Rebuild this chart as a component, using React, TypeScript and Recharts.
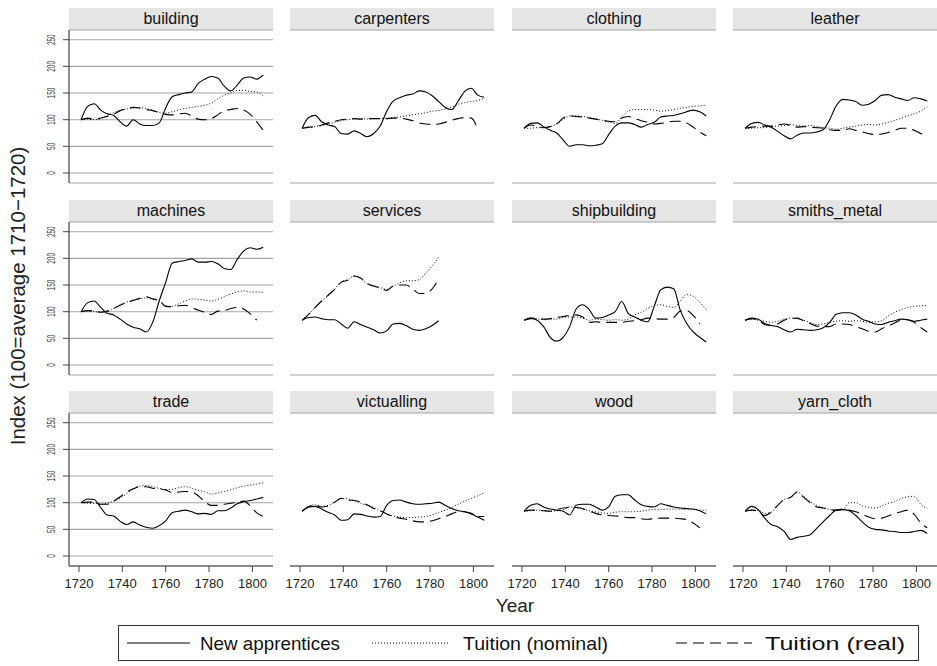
import React from 'react';
import { LineChart, Line, XAxis, YAxis, CartesianGrid } from 'recharts';

// Three-year sample points, 1721-1805
const years = [1721, 1724, 1727, 1730, 1733, 1736, 1739, 1742, 1745, 1748, 1751, 1754, 1757, 1760, 1763, 1766, 1769, 1772, 1775, 1778, 1781, 1784, 1787, 1790, 1793, 1796, 1799, 1802, 1805];

const seriesNames = ['New apprentices', 'Tuition (nominal)', 'Tuition (real)'];
const xTicks = [1720, 1740, 1760, 1780, 1800];
const yTicksLabelled = [0, 50, 100, 150, 200, 250];
const yTicksPlain = [0, 250 / 3, 500 / 3, 250];

const buildingApprentices = [100, 125, 130, 118, 111, 108, 96, 88, 100, 92, 89, 89, 94, 122, 143, 147, 150, 152, 168, 176, 181, 178, 163, 154, 165, 178, 180, 176, 184];
const buildingNominal = [100, 101, 100, 102, 108, 113, 118, 120, 122, 123, 121, 118, 114, 112, 115, 118, 121, 123, 125, 127, 131, 139, 146, 150, 155, 155, 153, 152, 144];
const buildingReal = [100, 103, 101, 103, 106, 110, 117, 120, 123, 122, 119, 117, 113, 110, 109, 111, 112, 107, 101, 100, 102, 109, 117, 119, 121, 118, 110, 96, 80];

const carpentersApprentices = [84, 104, 108, 96, 90, 87, 74, 73, 79, 74, 68, 74, 88, 116, 135, 141, 146, 148, 154, 152, 145, 134, 123, 119, 135, 153, 159, 146, 142];
const carpentersNominal = [84, 85, 87, 89, 92, 95, 98, 100, 101, 102, 101, 102, 102, 103, 104, 105, 107, 109, 111, 113, 116, 117, 120, 124, 129, 132, 134, 136, 140];
const carpentersReal = [84, 86, 87, 90, 94, 97, 100, 101, 102, 101, 102, 102, 102, 102, 103, 103, 101, 98, 94, 92, 91, 92, 95, 99, 102, 104, 103, 82, null];

const clothingApprentices = [84, 93, 94, 87, 80, 75, 62, 50, 53, 53, 51, 52, 55, 72, 88, 94, 94, 91, 86, 91, 95, 105, 107, 108, 111, 115, 118, 115, 107];
const clothingNominal = [84, 84, 85, 85, 87, 92, 100, 107, 107, 106, 104, 101, 99, 96, 93, 105, 116, 119, 119, 119, 118, 116, 117, 119, 121, 123, 125, 126, 127];
const clothingReal = [84, 90, 88, 85, 87, 92, 103, 107, 106, 105, 103, 101, 99, 97, 96, 103, 106, 102, 98, 95, 92, 93, 95, 97, 97, 94, 86, 77, 70];

const leatherApprentices = [84, 93, 95, 90, 86, 78, 70, 64, 71, 75, 75, 77, 81, 100, 126, 138, 137, 134, 127, 129, 136, 146, 147, 142, 139, 136, 141, 139, 135];
const leatherNominal = [84, 84, 85, 85, 87, 88, 89, 91, 89, 88, 89, 87, 85, 84, 82, 84, 86, 88, 90, 91, 90, 92, 95, 99, 103, 107, 111, 116, 124];
const leatherReal = [84, 86, 87, 88, 88, 90, 92, 89, 86, 87, 86, 85, 84, 81, 80, 80, 83, 80, 77, 74, 72, 73, 76, 80, 84, 84, 80, 74, 69];

const machinesApprentices = [100, 117, 120, 108, 97, 94, 86, 77, 71, 68, 62, 80, 120, 155, 191, 194, 196, 199, 193, 193, 194, 190, 181, 179, 198, 214, 220, 217, 221];
const machinesNominal = [100, 101, 100, 99, 100, 106, 113, 118, 122, 124, 126, 123, 121, 111, 110, 115, 120, 124, 123, 122, 120, 123, 128, 133, 137, 139, 137, 137, 136];
const machinesReal = [100, 102, 101, 99, 101, 106, 112, 117, 121, 125, 128, 124, 121, 110, 109, 111, 112, 107, 103, 99, 95, 101, 102, 106, 108, 105, 96, 84, null];

const servicesApprentices = [84, 89, 90, 87, 85, 85, 77, 69, 81, 76, 71, 66, 60, 64, 77, 78, 74, 67, 65, 68, 74, 83, null, null, null, null, null, null, null];
const servicesNominal = [84, 95, 108, 120, 130, 142, 156, 160, 167, 162, 152, 148, 145, 142, 148, 154, 158, 158, 160, 172, 186, 202, null, null, null, null, null, null, null];
const servicesReal = [84, 95, 108, 120, 131, 142, 155, 159, 167, 163, 153, 148, 145, 140, 148, 150, 150, 143, 134, 134, 143, 161, null, null, null, null, null, null, null];

const shipbuildingApprentices = [84, 88, 84, 72, 52, 45, 52, 72, 105, 113, 104, 88, 89, 94, 100, 119, 97, 90, 84, 81, 110, 141, 146, 143, 103, 78, 62, 52, 43];
const shipbuildingNominal = [84, 89, 87, 85, 86, 86, 89, 90, 90, 88, 84, 86, 85, 84, 85, 84, 86, 94, 99, 106, 111, 113, 110, 108, 120, 132, 129, 118, 104];
const shipbuildingReal = [84, 87, 87, 86, 87, 89, 91, 93, 94, 90, 80, 81, 80, 80, 80, 80, 82, 83, 85, 88, 87, 86, 86, 89, 101, 102, 93, 77, null];

const smithsApprentices = [84, 88, 86, 78, 74, 72, 66, 62, 67, 66, 65, 66, 70, 80, 95, 98, 98, 94, 86, 82, 77, 76, 80, 83, 86, 85, 82, 84, 86];
const smithsNominal = [84, 86, 84, 82, 80, 82, 86, 88, 87, 84, 80, 76, 77, 80, 82, 83, 82, 83, 82, 80, 81, 83, 92, 99, 104, 108, 110, 111, 112];
const smithsReal = [84, 87, 84, 76, 74, 77, 84, 87, 88, 83, 78, 73, 72, 72, 77, 77, 76, 72, 68, 63, 62, 68, 73, 79, 84, 85, 80, 70, 62];

const tradeApprentices = [100, 107, 106, 91, 77, 75, 65, 59, 64, 58, 54, 52, 57, 66, 81, 84, 86, 83, 79, 80, 78, 85, 85, 90, 98, 102, 104, 107, 110];
const tradeNominal = [100, 99, 99, 97, 99, 103, 108, 117, 125, 131, 132, 130, 127, 124, 125, 128, 130, 127, 123, 121, 116, 118, 121, 124, 128, 131, 133, 135, 137];
const tradeReal = [100, 101, 101, 97, 97, 103, 111, 120, 126, 130, 130, 127, 126, 124, 119, 120, 121, 120, 113, 102, 95, 95, 97, 99, 101, 103, 94, 81, 74];

const victuallingApprentices = [84, 92, 93, 88, 82, 77, 67, 68, 79, 78, 75, 73, 74, 95, 104, 105, 101, 98, 97, 98, 99, 101, 95, 89, 85, 83, 79, 73, 67];
const victuallingNominal = [84, 93, 96, 93, 95, 101, 108, 107, 104, 99, 95, 91, 85, 79, 75, 73, 72, 72, 73, 74, 77, 82, 86, 91, 97, 103, 108, 113, 119];
const victuallingReal = [84, 92, 96, 92, 94, 101, 108, 105, 104, 101, 96, 89, 85, 79, 74, 71, 69, 66, 64, 64, 66, 70, 74, 79, 83, 83, 80, 74, 74];

const woodApprentices = [84, 95, 98, 92, 88, 86, 84, 77, 95, 97, 97, 92, 86, 92, 112, 115, 115, 105, 96, 93, 92, 98, 95, 92, 90, 89, 88, 85, 79];
const woodNominal = [84, 85, 86, 85, 84, 85, 87, 92, 90, 88, 85, 83, 81, 80, 82, 83, 83, 83, 84, 86, 87, 87, 88, 88, 88, 87, 87, 86, 86];
const woodReal = [84, 86, 86, 85, 84, 87, 90, 91, 91, 89, 84, 80, 77, 76, 75, 74, 72, 72, 70, 69, 70, 71, 71, 71, 70, 68, 62, 53, null];

const yarnApprentices = [84, 93, 87, 71, 59, 55, 46, 31, 35, 37, 40, 52, 64, 76, 86, 87, 85, 76, 64, 54, 50, 49, 47, 46, 44, 44, 46, 48, 42];
const yarnNominal = [84, 86, 86, 80, 82, 95, 106, 110, 120, 112, 102, 95, 91, 87, 86, 86, 100, 100, 94, 91, 90, 94, 99, 102, 108, 111, 112, 97, 89];
const yarnReal = [84, 86, 84, 76, 82, 95, 106, 110, 120, 110, 100, 92, 90, 87, 86, 88, 86, 83, 79, 73, 70, 71, 75, 80, 83, 86, 78, 62, 53];

const panels = [
  { name: 'building', a: buildingApprentices, n: buildingNominal, r: buildingReal },
  { name: 'carpenters', a: carpentersApprentices, n: carpentersNominal, r: carpentersReal },
  { name: 'clothing', a: clothingApprentices, n: clothingNominal, r: clothingReal },
  { name: 'leather', a: leatherApprentices, n: leatherNominal, r: leatherReal },
  { name: 'machines', a: machinesApprentices, n: machinesNominal, r: machinesReal },
  { name: 'services', a: servicesApprentices, n: servicesNominal, r: servicesReal },
  { name: 'shipbuilding', a: shipbuildingApprentices, n: shipbuildingNominal, r: shipbuildingReal },
  { name: 'smiths_metal', a: smithsApprentices, n: smithsNominal, r: smithsReal },
  { name: 'trade', a: tradeApprentices, n: tradeNominal, r: tradeReal },
  { name: 'victualling', a: victuallingApprentices, n: victuallingNominal, r: victuallingReal },
  { name: 'wood', a: woodApprentices, n: woodNominal, r: woodReal },
  { name: 'yarn_cloth', a: yarnApprentices, n: yarnNominal, r: yarnReal },
];

const FONT = "'Liberation Sans', Arial, Helvetica, sans-serif";
const COL_LEFT = [69, 290, 512, 733];
const ROW_TOP = [30, 222, 413];
const PLOT_W = 204;
const PLOT_H = 153;
const AXIS_W = 40;
const AXIS_H = 30;
const PAD_TOP = 12;
const HEADER_H = 22;

const RotatedTick = (props: any) => {
  const { x, y, payload } = props;
  const label = String(payload.value);
  const bx = x - 6;
  return (
    <text
      x={bx}
      y={y}
      transform={`rotate(-90 ${bx} ${y})`}
      textAnchor="middle"
      fontSize={10}
      fill="#333"
      fontFamily={FONT}
      textLength={label.length * 3.6}
      lengthAdjust="spacingAndGlyphs"
    >
      {label}
    </text>
  );
};

function Panel({ idx }: { idx: number }) {
  const p = panels[idx];
  const row = Math.floor(idx / 4);
  const col = idx % 4;
  const firstCol = col === 0;
  const lastRow = row === 2;
  const data = years.map((yr, i) => ({ year: yr, a: p.a[i], n: p.n[i], r: p.r[i] }));
  const left = COL_LEFT[col];
  const top = ROW_TOP[row];
  return (
    <>
      <div
        style={{
          position: 'absolute',
          left,
          top: top - HEADER_H,
          width: PLOT_W,
          height: HEADER_H,
          background: '#e5e5e5',
          textAlign: 'center',
          lineHeight: `${HEADER_H}px`,
          fontSize: 16,
          fontFamily: FONT,
          color: '#111',
        }}
      >
        {p.name}
      </div>
      <div style={{ position: 'absolute', left: left - AXIS_W, top: top - PAD_TOP }}>
        <LineChart
          width={PLOT_W + AXIS_W}
          height={PLOT_H + AXIS_H + PAD_TOP}
          data={data}
          margin={{ top: PAD_TOP, right: 0, bottom: 0, left: 0 }}
        >
          <CartesianGrid vertical={false} stroke="#a4a4a4" strokeWidth={1.1} />
          <XAxis
            type="number"
            dataKey="year"
            domain={[1715.4, 1809.5]}
            ticks={xTicks}
            interval={0}
            allowDataOverflow
            height={AXIS_H}
            axisLine={lastRow ? { stroke: '#444', strokeWidth: 1.2 } : false}
            tickLine={lastRow ? { stroke: '#444' } : false}
            tickSize={6}
            tickMargin={7}
            tick={lastRow ? { fontSize: 13, fill: '#222', fontFamily: FONT } : false}
          />
          <YAxis
            type="number"
            domain={[-18.75, 268.2]}
            ticks={firstCol ? yTicksLabelled : yTicksPlain}
            interval={0}
            allowDataOverflow
            width={AXIS_W}
            axisLine={firstCol ? { stroke: '#444', strokeWidth: 1.2 } : false}
            tickLine={firstCol ? { stroke: '#444' } : false}
            tickSize={6}
            tick={firstCol ? <RotatedTick /> : false}
          />
          <Line dataKey="a" name={seriesNames[0]} type="monotone" stroke="#000" strokeWidth={1.1} dot={false} isAnimationActive={false} />
          <Line dataKey="n" name={seriesNames[1]} type="monotone" stroke="#000" strokeWidth={1} strokeDasharray="1 2" dot={false} isAnimationActive={false} />
          <Line dataKey="r" name={seriesNames[2]} type="monotone" stroke="#000" strokeWidth={1.1} strokeDasharray="11 6" dot={false} isAnimationActive={false} />
        </LineChart>
      </div>
    </>
  );
}

export default function App() {
  return (
    <div
      style={{
        position: 'absolute',
        left: 0,
        top: 0,
        width: 937,
        height: 666,
        background: '#fff',
        overflow: 'hidden',
        fontFamily: FONT,
      }}
    >
      {panels.map((_, i) => (
        <Panel key={i} idx={i} />
      ))}
      <svg width={937} height={666} style={{ position: 'absolute', left: 0, top: 0, pointerEvents: 'none' }}>
        <text
          x={25}
          y={296}
          transform="rotate(-90 25 296)"
          textAnchor="middle"
          fontSize={20.5}
          fill="#222"
          fontFamily={FONT}
        >
          Index (100=average 1710−1720)
        </text>
        <text x={515} y={612} textAnchor="middle" fontSize={19} fill="#222" fontFamily={FONT}>
          Year
        </text>
        <rect x={118.5} y={625.5} width={800} height={35} fill="#fff" stroke="#333" strokeWidth={1} />
        <line x1={127} x2={190} y1={643} y2={643} stroke="#000" strokeWidth={1.1} />
        <text x={200} y={650} fontSize={18.5} fill="#111" fontFamily={FONT} textLength={140} lengthAdjust="spacingAndGlyphs">{seriesNames[0]}</text>
        <line x1={372} x2={448} y1={643} y2={643} stroke="#000" strokeWidth={1} strokeDasharray="1 2" />
        <text x={463} y={650} fontSize={18.5} fill="#111" fontFamily={FONT} textLength={145} lengthAdjust="spacingAndGlyphs">{seriesNames[1]}</text>
        <line x1={676} x2={752} y1={643} y2={643} stroke="#000" strokeWidth={1.1} strokeDasharray="11 6" />
        <text x={765} y={650} fontSize={18.5} fill="#111" fontFamily={FONT} textLength={140} lengthAdjust="spacingAndGlyphs">{seriesNames[2]}</text>
      </svg>
    </div>
  );
}
